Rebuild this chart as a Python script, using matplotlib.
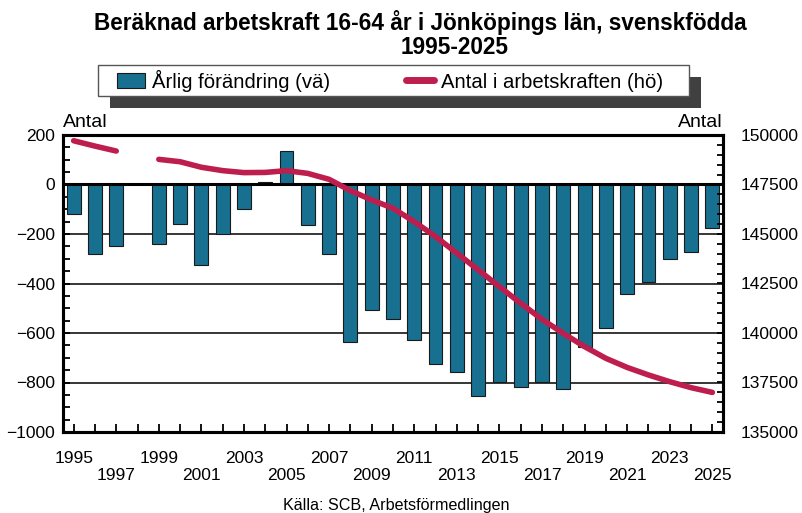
import numpy as np
import matplotlib
matplotlib.use("Agg")
import matplotlib.pyplot as plt
from matplotlib.patches import Rectangle, Patch
from matplotlib.lines import Line2D
from matplotlib.ticker import MultipleLocator, StrMethodFormatter

plt.rcParams['font.family'] = ['Liberation Sans', 'DejaVu Sans']

# ------------------
# data
# ------------------
years = list(range(1995, 2026))
# yearly change (left axis), 1998 missing
change = [-120, -280, -250, np.nan, -242, -159, -327, -199, -98, 12,
          135, -162, -280, -638, -509, -545, -628, -724, -756, -855,
          -796, -820, -796, -826, -655, -578, -444, -392, -303, -273, -175]
# number in labour force (right axis), 1998 missing
labour_force = [149710, 149440, 149190, np.nan, 148770, 148650, 148370, 148200, 148100, 148110,
                148200, 148060, 147760, 147190, 146720, 146300, 145620, 144870, 144030, 143190,
                142340, 141500, 140690, 139980, 139310, 138720, 138260, 137880, 137540, 137240, 137000]

bar_color = '#17708F'
line_color = '#BE1E4D'
W, H = 803, 513

fig = plt.figure(figsize=(W / 100, H / 100), dpi=100)
ax = fig.add_axes([63 / W, 81 / H, 660 / W, 297 / H])
x = np.arange(len(years))

# bars
ax.bar(x, change, width=0.65, color=bar_color, edgecolor='#1a1a1a', linewidth=0.8, zorder=2)
ax.axhline(0, color='black', linewidth=2.2, zorder=3)
ax.set_ylim(-1000, 200)
ax.set_xlim(-0.5, len(years) - 0.5)
ax.yaxis.set_major_locator(MultipleLocator(200))
ax.yaxis.set_minor_locator(MultipleLocator(50))
ax.yaxis.set_major_formatter(StrMethodFormatter('{x:.0f}'))
ax.grid(axis='y', which='major', color='black', linewidth=1.1)
ax.set_axisbelow(True)
ax.tick_params(axis='y', which='both', direction='in', length=5, width=1.3,
               labelsize=12.5, pad=5.5)

# x tick labels, staggered in two rows
labels = []
for i, yr in enumerate(years):
    if i % 4 == 0:
        labels.append(str(yr))
    elif i % 4 == 2:
        labels.append('\n' + str(yr))
    else:
        labels.append('')
ax.set_xticks(x)
ax.set_xticklabels(labels, linespacing=1.15)
ax.tick_params(axis='x', direction='in', length=5.5, width=1.3, labelsize=12.5, pad=14)

# line on right axis
ax2 = ax.twinx()
ax2.plot(x, labour_force, color=line_color, linewidth=4, solid_capstyle='round', zorder=4)
ax2.set_ylim(135000, 150000)
ax2.yaxis.set_major_locator(MultipleLocator(2500))
ax2.yaxis.set_minor_locator(MultipleLocator(500))
ax2.yaxis.set_major_formatter(StrMethodFormatter('{x:.0f}'))
ax2.tick_params(axis='y', which='both', direction='in', length=4.5, width=1.3,
                labelsize=12.5, pad=13)

for a in (ax, ax2):
    for s in a.spines.values():
        s.set_linewidth(2.2)

# titles and axis captions
fig.text(420 / W, 1 - 30 / H, 'Beräknad arbetskraft 16-64 år i Jönköpings län, svenskfödda',
         ha='center', va='baseline', fontsize=16.3, fontweight='bold')
fig.text(454.5 / W, 1 - 54 / H, '1995-2025', ha='center', va='baseline',
         fontsize=16.3, fontweight='bold')
fig.text(63 / W, 1 - 127 / H, 'Antal', ha='left', va='baseline', fontsize=14)
fig.text(723 / W, 1 - 127 / H, 'Antal', ha='right', va='baseline', fontsize=14)
fig.text(396 / W, 1 - 510 / H, 'Källa: SCB, Arbetsförmedlingen', ha='center', va='baseline',
         fontsize=11.6)

# legend box with shadow
fig.patches.append(Rectangle((110 / W, 1 - 108 / H), 591 / W, 31 / H, transform=fig.transFigure,
                             facecolor='#404040', edgecolor='none', zorder=0))
fig.patches.append(Rectangle((98 / W, 1 - 96 / H), 591 / W, 31 / H, transform=fig.transFigure,
                             facecolor='white', edgecolor='#555555', linewidth=1, zorder=1))
handles = [Patch(facecolor=bar_color, edgecolor='#1a1a1a', linewidth=0.8),
           Line2D([0], [0], color=line_color, linewidth=5, solid_capstyle='round')]
fig.legend(handles, ['Årlig förändring (vä)', 'Antal i arbetskraften (hö)'],
           loc='center left', bbox_to_anchor=(107 / W, 1 - 80.5 / H), ncol=2,
           frameon=False, fontsize=14.6, borderpad=0, handlelength=1.35,
           handletextpad=0.38, columnspacing=3.75)

fig.savefig('out.png', dpi=100)
